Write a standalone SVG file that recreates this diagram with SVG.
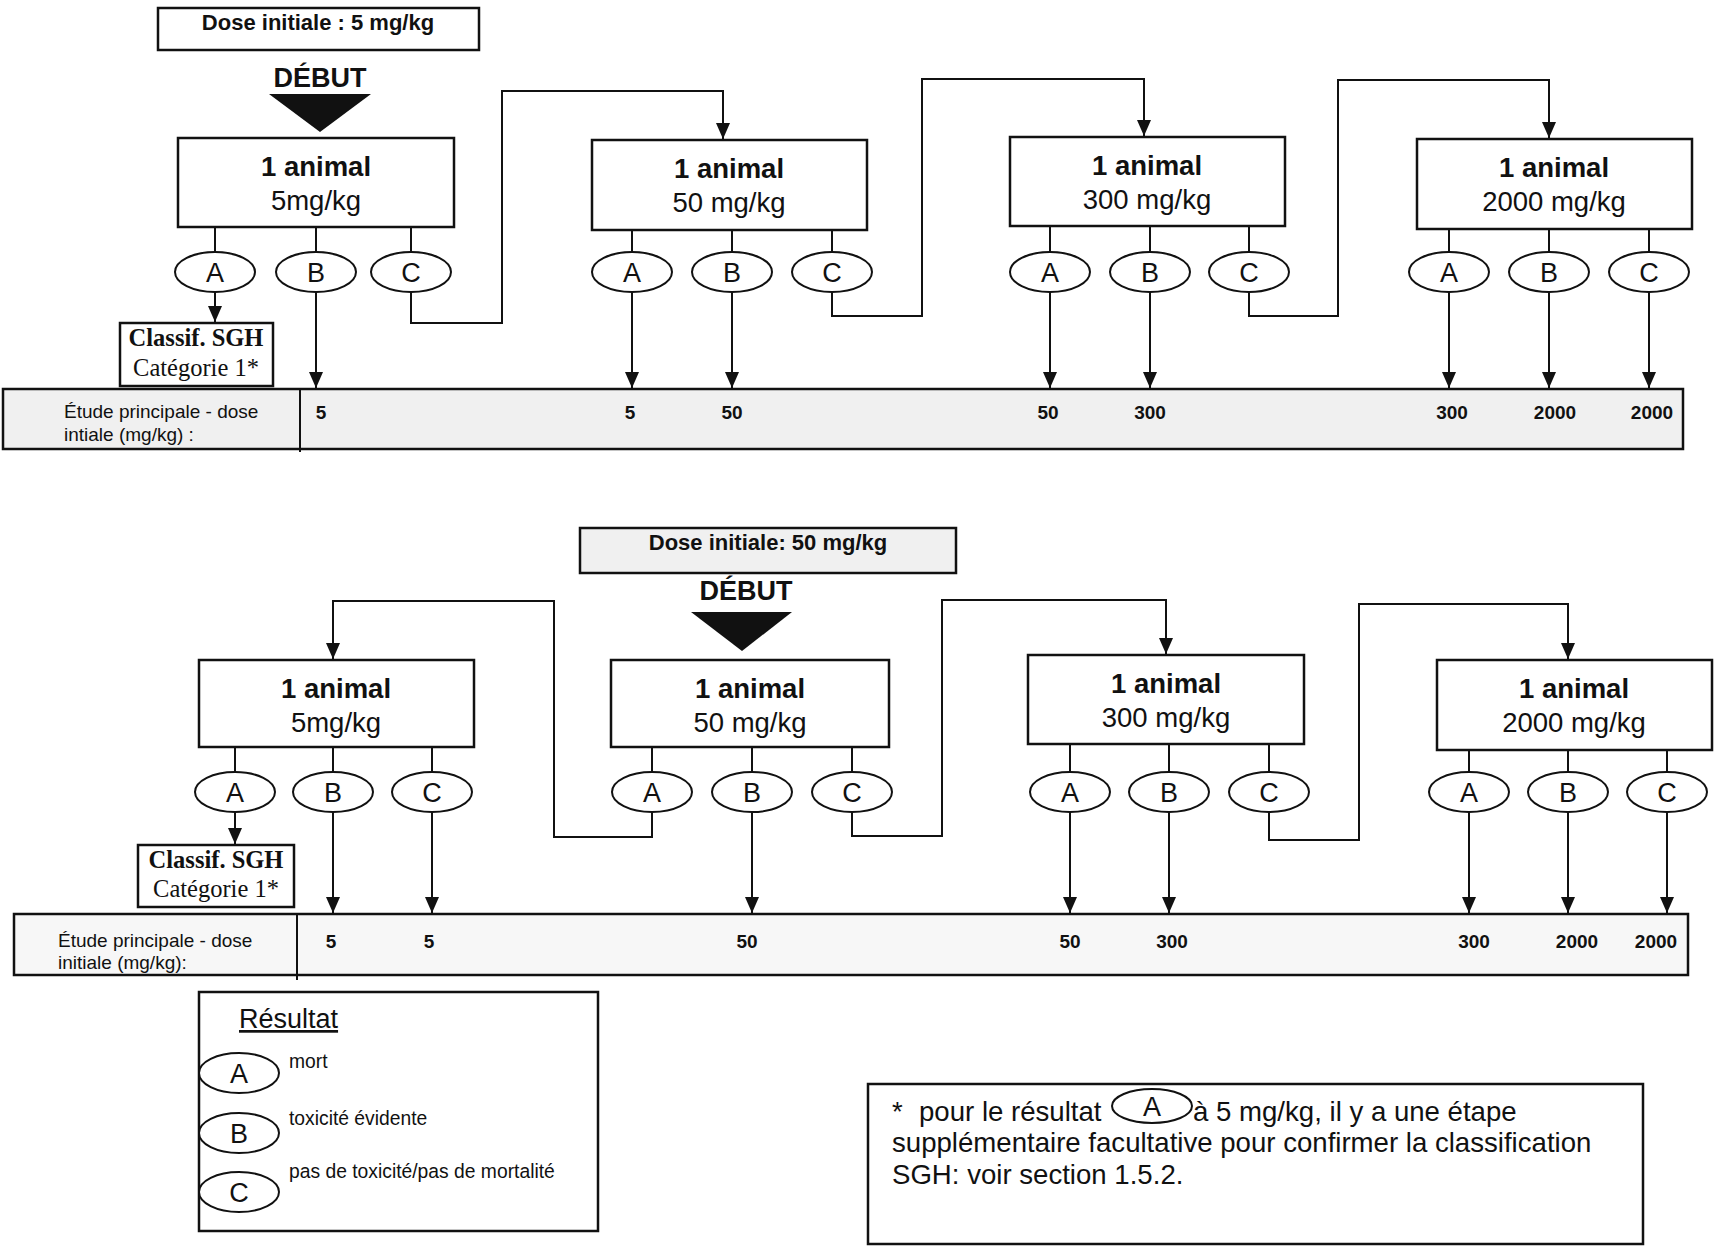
<svg xmlns="http://www.w3.org/2000/svg" width="1721" height="1259" viewBox="0 0 1721 1259">
<defs>
<marker id="ah" markerWidth="16" markerHeight="16" refX="16" refY="7" orient="auto" markerUnits="userSpaceOnUse"><path d="M0,0 L16,7 L0,14 z" fill="#111"/></marker>
</defs>
<style>
.box{fill:#fff;stroke:#111;stroke-width:2.5}
.band{fill:#f0f0f0;stroke:#111;stroke-width:2.5}
.ov{fill:#fff;stroke:#111;stroke-width:2}
.ln{fill:none;stroke:#111;stroke-width:2}
.ar{fill:none;stroke:#111;stroke-width:2;marker-end:url(#ah)}
.t1{font-family:"Liberation Sans",Arial,sans-serif;font-weight:bold;font-size:27.5px;text-anchor:middle;fill:#111}
.t2{font-family:"Liberation Sans",Arial,sans-serif;font-size:27.5px;text-anchor:middle;fill:#111}
.ol{font-family:"Liberation Sans",Arial,sans-serif;font-size:27px;text-anchor:middle;fill:#111}
.dose{font-family:"Liberation Sans",Arial,sans-serif;font-weight:bold;font-size:22px;text-anchor:middle;fill:#111}
.deb{font-family:"Liberation Sans",Arial,sans-serif;font-weight:bold;font-size:27px;text-anchor:middle;fill:#111}
.num{font-family:"Liberation Sans",Arial,sans-serif;font-weight:bold;font-size:19px;text-anchor:middle;fill:#111}
.lab{font-family:"Liberation Sans",Arial,sans-serif;font-size:19px;fill:#111}
.sgh{font-family:"Liberation Serif","Times New Roman",serif;font-weight:bold;font-size:24.5px;text-anchor:middle;fill:#111}
.cat{font-family:"Liberation Serif","Times New Roman",serif;font-size:24.5px;text-anchor:middle;fill:#111}
.leg{font-family:"Liberation Sans",Arial,sans-serif;font-size:19.3px;fill:#111}
.foot{font-family:"Liberation Sans",Arial,sans-serif;font-size:27.6px;fill:#111}
</style>
<rect width="1721" height="1259" fill="#fff"/>

<!-- ===== TOP SECTION ===== -->
<g id="dose1"><rect class="box" x="158" y="8" width="321" height="42"/><text class="dose" x="318" y="30">Dose initiale : 5 mg/kg</text></g>
<g id="debut1"><text class="deb" x="320" y="87">DÉBUT</text><path d="M269,94 L371,94 L320,132 z" fill="#111"/></g>

<g id="band1">
<rect class="band" x="3" y="389" width="1680" height="60"/>
<line class="ln" x1="300" y1="389" x2="300" y2="452"/>
<text class="lab" x="64" y="418">Étude principale - dose</text>
<text class="lab" x="64" y="441">intiale (mg/kg) :</text>
<text class="num" x="321" y="419">5</text>
<text class="num" x="630" y="419">5</text>
<text class="num" x="732" y="419">50</text>
<text class="num" x="1048" y="419">50</text>
<text class="num" x="1150" y="419">300</text>
<text class="num" x="1452" y="419">300</text>
<text class="num" x="1555" y="419">2000</text>
<text class="num" x="1652" y="419">2000</text>
</g>

<g id="n1"><rect class="box" x="178" y="138" width="276" height="89"/><text class="t1" x="316" y="176">1 animal</text><text class="t2" x="316" y="210">5mg/kg</text></g>
<g id="n2"><rect class="box" x="592" y="140" width="275" height="90"/><text class="t1" x="729" y="178">1 animal</text><text class="t2" x="729" y="212">50 mg/kg</text></g>
<g id="n3"><rect class="box" x="1010" y="137" width="275" height="89"/><text class="t1" x="1147" y="175">1 animal</text><text class="t2" x="1147" y="209">300 mg/kg</text></g>
<g id="n4"><rect class="box" x="1417" y="139" width="275" height="90"/><text class="t1" x="1554" y="177">1 animal</text><text class="t2" x="1554" y="211">2000 mg/kg</text></g>

<g id="sgh1"><rect class="box" x="120" y="323" width="153" height="63"/><text class="sgh" x="196" y="346">Classif. SGH</text><text class="cat" x="196" y="376">Catégorie 1*</text></g>

<g id="ov-top">
<ellipse class="ov" cx="215" cy="272" rx="40" ry="20"/><text class="ol" x="215" y="282">A</text>
<ellipse class="ov" cx="316" cy="272" rx="40" ry="20"/><text class="ol" x="316" y="282">B</text>
<ellipse class="ov" cx="411" cy="272" rx="40" ry="20"/><text class="ol" x="411" y="282">C</text>
<ellipse class="ov" cx="632" cy="272" rx="40" ry="20"/><text class="ol" x="632" y="282">A</text>
<ellipse class="ov" cx="732" cy="272" rx="40" ry="20"/><text class="ol" x="732" y="282">B</text>
<ellipse class="ov" cx="832" cy="272" rx="40" ry="20"/><text class="ol" x="832" y="282">C</text>
<ellipse class="ov" cx="1050" cy="272" rx="40" ry="20"/><text class="ol" x="1050" y="282">A</text>
<ellipse class="ov" cx="1150" cy="272" rx="40" ry="20"/><text class="ol" x="1150" y="282">B</text>
<ellipse class="ov" cx="1249" cy="272" rx="40" ry="20"/><text class="ol" x="1249" y="282">C</text>
<ellipse class="ov" cx="1449" cy="272" rx="40" ry="20"/><text class="ol" x="1449" y="282">A</text>
<ellipse class="ov" cx="1549" cy="272" rx="40" ry="20"/><text class="ol" x="1549" y="282">B</text>
<ellipse class="ov" cx="1649" cy="272" rx="40" ry="20"/><text class="ol" x="1649" y="282">C</text>
</g>

<!-- ===== BOTTOM SECTION ===== -->
<g id="dose2"><rect x="580" y="528" width="376" height="45" fill="#f0f0f0" stroke="#111" stroke-width="2.5"/><text class="dose" x="768" y="550">Dose initiale: 50 mg/kg</text></g>
<g id="debut2"><text class="deb" x="746" y="600">DÉBUT</text><path d="M691,612 L792,612 L742,651 z" fill="#111"/></g>

<g id="band2">
<rect x="14" y="914" width="1674" height="61" fill="#f7f7f7" stroke="#111" stroke-width="2.5"/>
<line class="ln" x1="297" y1="914" x2="297" y2="980"/>
<text class="lab" x="58" y="947">Étude principale - dose</text>
<text class="lab" x="58" y="969">initiale (mg/kg):</text>
<text class="num" x="331" y="948">5</text>
<text class="num" x="429" y="948">5</text>
<text class="num" x="747" y="948">50</text>
<text class="num" x="1070" y="948">50</text>
<text class="num" x="1172" y="948">300</text>
<text class="num" x="1474" y="948">300</text>
<text class="num" x="1577" y="948">2000</text>
<text class="num" x="1656" y="948">2000</text>
</g>

<g id="n5"><rect class="box" x="199" y="660" width="275" height="87"/><text class="t1" x="336" y="698">1 animal</text><text class="t2" x="336" y="732">5mg/kg</text></g>
<g id="n6"><rect class="box" x="611" y="660" width="278" height="87"/><text class="t1" x="750" y="698">1 animal</text><text class="t2" x="750" y="732">50 mg/kg</text></g>
<g id="n7"><rect class="box" x="1028" y="655" width="276" height="89"/><text class="t1" x="1166" y="693">1 animal</text><text class="t2" x="1166" y="727">300 mg/kg</text></g>
<g id="n8"><rect class="box" x="1437" y="660" width="275" height="90"/><text class="t1" x="1574" y="698">1 animal</text><text class="t2" x="1574" y="732">2000 mg/kg</text></g>

<g id="sgh2"><rect class="box" x="138" y="845" width="156" height="62"/><text class="sgh" x="216" y="868">Classif. SGH</text><text class="cat" x="216" y="897">Catégorie 1*</text></g>

<g id="ov-bottom">
<ellipse class="ov" cx="235" cy="792" rx="40" ry="20"/><text class="ol" x="235" y="802">A</text>
<ellipse class="ov" cx="333" cy="792" rx="40" ry="20"/><text class="ol" x="333" y="802">B</text>
<ellipse class="ov" cx="432" cy="792" rx="40" ry="20"/><text class="ol" x="432" y="802">C</text>
<ellipse class="ov" cx="652" cy="792" rx="40" ry="20"/><text class="ol" x="652" y="802">A</text>
<ellipse class="ov" cx="752" cy="792" rx="40" ry="20"/><text class="ol" x="752" y="802">B</text>
<ellipse class="ov" cx="852" cy="792" rx="40" ry="20"/><text class="ol" x="852" y="802">C</text>
<ellipse class="ov" cx="1070" cy="792" rx="40" ry="20"/><text class="ol" x="1070" y="802">A</text>
<ellipse class="ov" cx="1169" cy="792" rx="40" ry="20"/><text class="ol" x="1169" y="802">B</text>
<ellipse class="ov" cx="1269" cy="792" rx="40" ry="20"/><text class="ol" x="1269" y="802">C</text>
<ellipse class="ov" cx="1469" cy="792" rx="40" ry="20"/><text class="ol" x="1469" y="802">A</text>
<ellipse class="ov" cx="1568" cy="792" rx="40" ry="20"/><text class="ol" x="1568" y="802">B</text>
<ellipse class="ov" cx="1667" cy="792" rx="40" ry="20"/><text class="ol" x="1667" y="802">C</text>
</g>

<!-- ===== CONNECTORS ===== -->
<g id="connectors">
<path class="ln" d="M215,227V252 M316,227V252 M411,227V252 M632,230V252 M732,230V252 M832,230V252 M1050,226V252 M1150,226V252 M1249,226V252 M1449,229V252 M1549,229V252 M1649,229V252"/>
<path class="ln" d="M235,747V772 M333,747V772 M432,747V772 M652,747V772 M752,747V772 M852,747V772 M1070,744V772 M1169,744V772 M1269,744V772 M1469,750V772 M1568,750V772 M1667,750V772"/>
<path class="ar" d="M411,292V323H502V91H723V139"/>
<path class="ar" d="M832,292V316H922V79H1144V136"/>
<path class="ar" d="M1249,292V316H1338V80H1549V138"/>
<path class="ar" d="M215,292V322"/>
<path class="ar" d="M316,292V388"/>
<path class="ar" d="M632,292V388"/>
<path class="ar" d="M732,292V388"/>
<path class="ar" d="M1050,292V388"/>
<path class="ar" d="M1150,292V388"/>
<path class="ar" d="M1449,292V388"/>
<path class="ar" d="M1549,292V388"/>
<path class="ar" d="M1649,292V388"/>
<path class="ar" d="M652,812V837H554V601H333V659"/>
<path class="ar" d="M852,812V836H942V600H1166V654"/>
<path class="ar" d="M1269,812V840H1359V604H1568V659"/>
<path class="ar" d="M235,812V844"/>
<path class="ar" d="M333,812V913"/>
<path class="ar" d="M432,812V913"/>
<path class="ar" d="M752,812V913"/>
<path class="ar" d="M1070,812V913"/>
<path class="ar" d="M1169,812V913"/>
<path class="ar" d="M1469,812V913"/>
<path class="ar" d="M1568,812V913"/>
<path class="ar" d="M1667,812V913"/>
</g>

<!-- ===== LEGEND ===== -->
<g id="legend">
<rect class="box" x="199" y="992" width="399" height="239"/>
<text x="239" y="1028" font-family="'Liberation Sans',Arial,sans-serif" font-size="27" fill="#111" text-decoration="underline">Résultat</text>
<ellipse class="ov" cx="239" cy="1073" rx="40" ry="20"/><text class="ol" x="239" y="1083">A</text>
<ellipse class="ov" cx="239" cy="1133" rx="40" ry="20"/><text class="ol" x="239" y="1143">B</text>
<ellipse class="ov" cx="239" cy="1192" rx="40" ry="20"/><text class="ol" x="239" y="1202">C</text>
<text class="leg" x="289" y="1068">mort</text>
<text class="leg" x="289" y="1125">toxicité évidente</text>
<text class="leg" x="289" y="1178">pas de toxicité/pas de mortalité</text>
</g>

<!-- ===== FOOTNOTE ===== -->
<g id="footnote">
<rect class="box" x="868" y="1084" width="775" height="160"/>
<text class="foot" x="892" y="1121">*</text>
<text class="foot" x="919" y="1121">pour le résultat</text>
<ellipse class="ov" cx="1152" cy="1106" rx="40" ry="17"/><text class="ol" x="1152" y="1116">A</text>
<text class="foot" x="1193" y="1121">à 5 mg/kg, il y a une étape</text>
<text class="foot" x="892" y="1152">supplémentaire facultative pour confirmer la classification</text>
<text class="foot" x="892" y="1184">SGH: voir section 1.5.2.</text>
</g>
</svg>
